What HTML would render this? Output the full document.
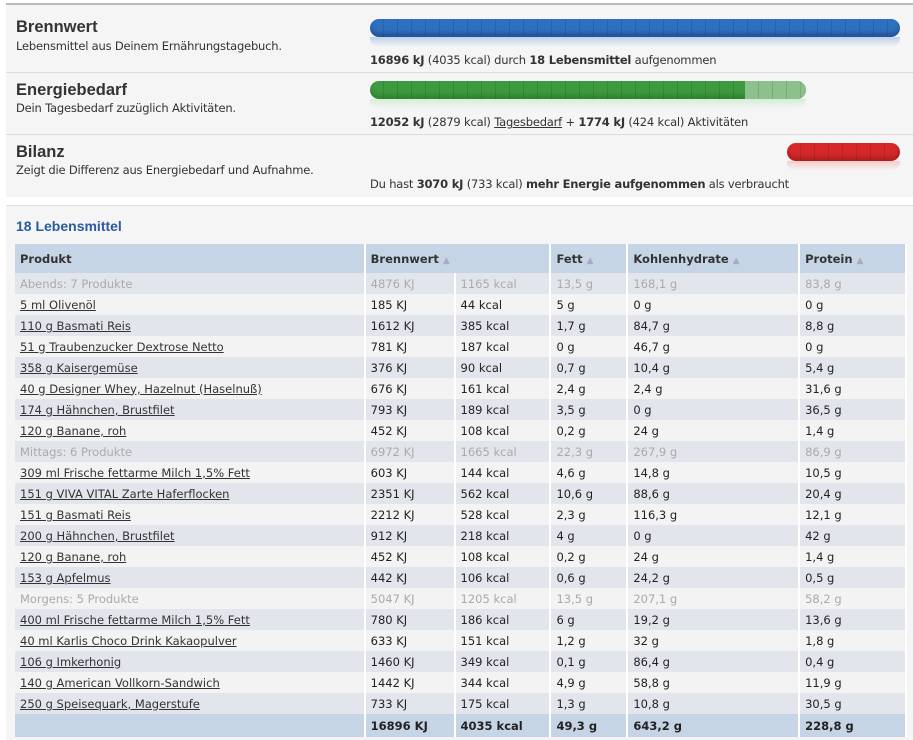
<!DOCTYPE html>
<html><head><meta charset="utf-8"><style>
*{margin:0;padding:0;box-sizing:border-box}
body{width:913px;height:740px;background:#fff;font-family:"DejaVu Sans","Liberation Sans",sans-serif;color:#222;position:relative;overflow:hidden}
.top{position:absolute;left:6px;top:3px;width:907px;height:194px;background:#f5f5f5;border-top:2px solid #bbb;}
.sec{position:absolute;left:0;width:907px;border-bottom:1px solid #ddd}
.sec h2{position:absolute;left:10px;font-size:16.5px;font-weight:bold;color:#333;font-family:"Liberation Sans",sans-serif}
.sec p{position:absolute;left:10px;font-size:11.5px;color:#333;letter-spacing:-0.2px}
.sec .info{position:absolute;left:364px;font-size:11.5px;color:#333;letter-spacing:-0.2px}
.bar{position:absolute;height:18px;border-radius:9px;background-image:repeating-linear-gradient(90deg,transparent 0 13px,rgba(0,0,0,.12) 13px 14px)}
.refl{position:absolute;height:10px;border-radius:0 0 9px 9px;opacity:.35}
.bot{position:absolute;left:6px;top:205px;width:907px;height:535px;background:#f5f5f5;border-top:1px solid #ddd}
.bot h3{position:absolute;left:10px;top:12px;font-size:14px;color:#2a5aa0;font-weight:bold;font-family:"Liberation Sans",sans-serif}
table{position:absolute;left:9px;top:38px;width:892px;border-collapse:collapse;font-size:11.5px;letter-spacing:0}
td,th{height:21px;padding:0 0 0 5px;text-align:left;border-right:2px solid #fff;white-space:nowrap}
th{height:29px;background:#c6d5e5;font-weight:bold;color:#333}
tr.a td{background:#e2e6ec}
tr.b td{background:#f3f3f3}
tr.g td{color:#aaa}
td u{color:#333}
tr.t td{background:#c6d5e5;font-weight:bold;height:23px}
.s{color:#aab;font-size:9px}
</style></head><body>
<div class="top">
 <div class="sec" style="top:0;height:68px">
  <h2 style="top:13px">Brennwert</h2><p style="top:34px">Lebensmittel aus Deinem Ernährungstagebuch.</p>
  <div class="bar" style="left:364px;top:14px;width:530px;background-color:#2f6fc0;box-shadow:inset 0 -4px 4px rgba(0,0,40,.25)"></div>
  <div class="refl" style="left:364px;top:32px;width:530px;background:linear-gradient(#5a8fd0,transparent)"></div>
  <div class="info" style="top:48px"><b>16896 kJ</b> (4035 kcal) durch <b>18 Lebensmittel</b> aufgenommen</div>
 </div>
 <div class="sec" style="top:68px;height:62px">
  <h2 style="top:8px">Energiebedarf</h2><p style="top:28px">Dein Tagesbedarf zuzüglich Aktivitäten.</p>
  <div class="bar" style="left:364px;top:8px;width:436px;background-color:#3e9a3e;box-shadow:inset 0 -4px 4px rgba(0,40,0,.2)"></div>
  <div class="bar" style="left:739px;top:8px;width:61px;border-radius:0 9px 9px 0;background-color:#8cc08c"></div>
  <div class="refl" style="left:364px;top:26px;width:436px;background:linear-gradient(#9edc9e,transparent)"></div>
  <div class="info" style="top:42px"><b>12052 kJ</b> (2879 kcal) <u>Tagesbedarf</u> + <b>1774 kJ</b> (424 kcal) Aktivitäten</div>
 </div>
 <div class="sec" style="top:130px;height:64px;border:none">
  <h2 style="top:8px">Bilanz</h2><p style="top:28px">Zeigt die Differenz aus Energiebedarf und Aufnahme.</p>
  <div class="bar" style="left:781px;top:8px;width:113px;background-color:#d62828;box-shadow:inset 0 -4px 4px rgba(60,0,0,.25)"></div>
  <div class="refl" style="left:781px;top:26px;width:113px;background:linear-gradient(#f08080,transparent)"></div>
  <div class="info" style="top:42px">Du hast <b>3070 kJ</b> (733 kcal) <b>mehr Energie aufgenommen</b> als verbraucht</div>
 </div>
</div>
<div class="bot">
<h3>18 Lebensmittel</h3>
<table>
<colgroup><col style="width:350px"><col style="width:90px"><col style="width:96px"><col style="width:77px"><col style="width:172px"><col style="width:107px"></colgroup>
<tr><th>Produkt</th><th colspan="2">Brennwert <span class="s">&#9650;</span></th><th>Fett <span class="s">&#9650;</span></th><th>Kohlenhydrate <span class="s">&#9650;</span></th><th>Protein <span class="s">&#9650;</span></th></tr>
<tr class="a g"><td>Abends: 7 Produkte</td><td>4876 KJ</td><td>1165 kcal</td><td>13,5 g</td><td>168,1 g</td><td>83,8 g</td></tr>
<tr class="b"><td><u>5 ml Olivenöl</u></td><td>185 KJ</td><td>44 kcal</td><td>5 g</td><td>0 g</td><td>0 g</td></tr>
<tr class="a"><td><u>110 g Basmati Reis</u></td><td>1612 KJ</td><td>385 kcal</td><td>1,7 g</td><td>84,7 g</td><td>8,8 g</td></tr>
<tr class="b"><td><u>51 g Traubenzucker Dextrose Netto</u></td><td>781 KJ</td><td>187 kcal</td><td>0 g</td><td>46,7 g</td><td>0 g</td></tr>
<tr class="a"><td><u>358 g Kaisergemüse</u></td><td>376 KJ</td><td>90 kcal</td><td>0,7 g</td><td>10,4 g</td><td>5,4 g</td></tr>
<tr class="b"><td><u>40 g Designer Whey, Hazelnut (Haselnuß)</u></td><td>676 KJ</td><td>161 kcal</td><td>2,4 g</td><td>2,4 g</td><td>31,6 g</td></tr>
<tr class="a"><td><u>174 g Hähnchen, Brustfilet</u></td><td>793 KJ</td><td>189 kcal</td><td>3,5 g</td><td>0 g</td><td>36,5 g</td></tr>
<tr class="b"><td><u>120 g Banane, roh</u></td><td>452 KJ</td><td>108 kcal</td><td>0,2 g</td><td>24 g</td><td>1,4 g</td></tr>
<tr class="a g"><td>Mittags: 6 Produkte</td><td>6972 KJ</td><td>1665 kcal</td><td>22,3 g</td><td>267,9 g</td><td>86,9 g</td></tr>
<tr class="b"><td><u>309 ml Frische fettarme Milch 1,5% Fett</u></td><td>603 KJ</td><td>144 kcal</td><td>4,6 g</td><td>14,8 g</td><td>10,5 g</td></tr>
<tr class="a"><td><u>151 g VIVA VITAL Zarte Haferflocken</u></td><td>2351 KJ</td><td>562 kcal</td><td>10,6 g</td><td>88,6 g</td><td>20,4 g</td></tr>
<tr class="b"><td><u>151 g Basmati Reis</u></td><td>2212 KJ</td><td>528 kcal</td><td>2,3 g</td><td>116,3 g</td><td>12,1 g</td></tr>
<tr class="a"><td><u>200 g Hähnchen, Brustfilet</u></td><td>912 KJ</td><td>218 kcal</td><td>4 g</td><td>0 g</td><td>42 g</td></tr>
<tr class="b"><td><u>120 g Banane, roh</u></td><td>452 KJ</td><td>108 kcal</td><td>0,2 g</td><td>24 g</td><td>1,4 g</td></tr>
<tr class="a"><td><u>153 g Apfelmus</u></td><td>442 KJ</td><td>106 kcal</td><td>0,6 g</td><td>24,2 g</td><td>0,5 g</td></tr>
<tr class="b g"><td>Morgens: 5 Produkte</td><td>5047 KJ</td><td>1205 kcal</td><td>13,5 g</td><td>207,1 g</td><td>58,2 g</td></tr>
<tr class="a"><td><u>400 ml Frische fettarme Milch 1,5% Fett</u></td><td>780 KJ</td><td>186 kcal</td><td>6 g</td><td>19,2 g</td><td>13,6 g</td></tr>
<tr class="b"><td><u>40 ml Karlis Choco Drink Kakaopulver</u></td><td>633 KJ</td><td>151 kcal</td><td>1,2 g</td><td>32 g</td><td>1,8 g</td></tr>
<tr class="a"><td><u>106 g Imkerhonig</u></td><td>1460 KJ</td><td>349 kcal</td><td>0,1 g</td><td>86,4 g</td><td>0,4 g</td></tr>
<tr class="b"><td><u>140 g American Vollkorn-Sandwich</u></td><td>1442 KJ</td><td>344 kcal</td><td>4,9 g</td><td>58,8 g</td><td>11,9 g</td></tr>
<tr class="a"><td><u>250 g Speisequark, Magerstufe</u></td><td>733 KJ</td><td>175 kcal</td><td>1,3 g</td><td>10,8 g</td><td>30,5 g</td></tr>
<tr class="t"><td></td><td>16896 KJ</td><td>4035 kcal</td><td>49,3 g</td><td>643,2 g</td><td>228,8 g</td></tr>
</table>
</div>
</body></html>
